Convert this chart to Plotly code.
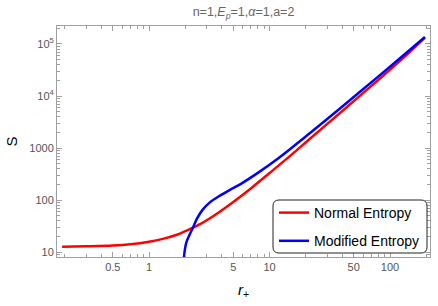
import plotly.graph_objects as go

# Values
r_normal = [0.19, 0.3, 0.5, 0.7, 1.0, 1.3, 1.7, 2.1, 2.6, 3.5, 5.0, 7.0, 10, 15, 22, 40, 83, 140, 195]
S_normal = [12.6, 12.85, 13.3, 14.1, 15.8, 17.9, 21.5, 26.5, 33.5, 51, 92, 167, 330, 720, 1560, 5100, 22000, 64000, 132000]

r_modified = [1.92, 1.94, 1.96, 2.0, 2.05, 2.15, 2.3, 2.5, 2.8, 3.2, 3.8, 4.7, 5.7, 8, 12, 21.7, 40, 83, 140, 195]
S_modified = [3, 6.5, 9, 12.5, 15.8, 20.5, 28.6, 44, 66, 90, 118, 157, 200, 332, 648, 1937, 6200, 25500, 71000, 136000]

x_tickvals = [0.5, 1, 5, 10, 50, 100]
x_ticktext = ["0.5", "1", "5", "10", "50", "100"]
y_tickvals = [10, 100, 1000, 10000, 100000]
y_ticktext = ["10", "100", "1000", "10<sup>4</sup>", "10<sup>5</sup>"]

title_text = "n=1,<i>E</i><sub><i>p</i></sub>=1,<i>α</i>=1,a=2"
names = ["Normal Entropy", "Modified Entropy"]

x_minor = [k * 10 ** d for d in (-1, 0, 1, 2) for k in range(2, 10)
           if 0.172 <= k * 10 ** d <= 215 and k * 10 ** d not in x_tickvals]
y_minor = [k * 10 ** d for d in (0, 1, 2, 3, 4, 5) for k in range(2, 10)
           if 8 <= k * 10 ** d <= 2.2e5]

fig = go.Figure()
fig.add_trace(go.Scatter(x=r_normal, y=S_normal, mode="lines", name=names[0],
                         line=dict(color="#ff0000", width=2.5, shape="spline", smoothing=0.8),
                         legendgroup="a"))
fig.add_trace(go.Scatter(x=r_modified, y=S_modified, mode="lines", name=names[1],
                         line=dict(color="#0000ff", width=2.5, shape="spline", smoothing=0.8),
                         legendgroup="b"))

frame_col = "#a0a0a0"
tick_font = dict(family="Liberation Sans, Arial, sans-serif", size=11, color="#555555")

fig.update_xaxes(type="log", range=[-0.764, 2.332], showgrid=False, zeroline=False,
                 showline=True, linecolor=frame_col, linewidth=1, mirror="allticks",
                 ticks="inside", ticklen=5, tickcolor=frame_col, tickwidth=1,
                 tickvals=x_tickvals, ticktext=x_ticktext, tickfont=tick_font,
                 minor=dict(tickvals=x_minor, ticks="inside", ticklen=3, tickcolor=frame_col, showgrid=False),
                 title=dict(text="<i>r</i><sub>+</sub>", font=dict(family="Liberation Sans, Arial", size=15, color="#000"), standoff=12))
fig.update_yaxes(type="log", range=[0.904, 5.346], showgrid=False, zeroline=False,
                 showline=True, linecolor=frame_col, linewidth=1, mirror="allticks",
                 ticks="inside", ticklen=5, tickcolor=frame_col, tickwidth=1,
                 tickvals=y_tickvals, ticktext=y_ticktext, tickfont=tick_font,
                 minor=dict(tickvals=y_minor, ticks="inside", ticklen=3, tickcolor=frame_col, showgrid=False),
                 title=dict(text="S", font=dict(family="Liberation Sans, Arial", size=15, color="#000"), standoff=8))

# rounded legend frame
x0, x1 = (273 - 57) / 373, (427 - 57) / 373
y0, y1 = (257 - 253) / 231, (257 - 200) / 231
rx, ry = 6 / 373, 6 / 231
path = (f"M {x0+rx},{y0} L {x1-rx},{y0} Q {x1},{y0} {x1},{y0+ry} L {x1},{y1-ry} "
        f"Q {x1},{y1} {x1-rx},{y1} L {x0+rx},{y1} Q {x0},{y1} {x0},{y1-ry} "
        f"L {x0},{y0+ry} Q {x0},{y0} {x0+rx},{y0} Z")
fig.add_shape(type="path", path=path, xref="paper", yref="paper",
              line=dict(color="#222222", width=1), fillcolor="white", layer="above")

fig.update_layout(
    width=438, height=306,
    margin=dict(l=57, r=8, t=26, b=49),
    paper_bgcolor="white", plot_bgcolor="white",
    title=dict(text=title_text, x=(243.5) / 438, xanchor="center", y=1 - 12 / 306, yanchor="middle",
               font=dict(family="Liberation Sans, Arial", size=12.5, color="#666666")),
    legend=dict(x=x0 + 1 / 373, y=y1 + 3 / 231, xanchor="left", yanchor="top",
                bgcolor="rgba(0,0,0,0)", borderwidth=0, tracegroupgap=7,
                font=dict(family="Liberation Sans, Arial", size=14, color="#000")),
    showlegend=True,
)

fig.write_html("out.html", config={"displayModeBar": False},
               post_script="document.body.style.margin='0px';")
